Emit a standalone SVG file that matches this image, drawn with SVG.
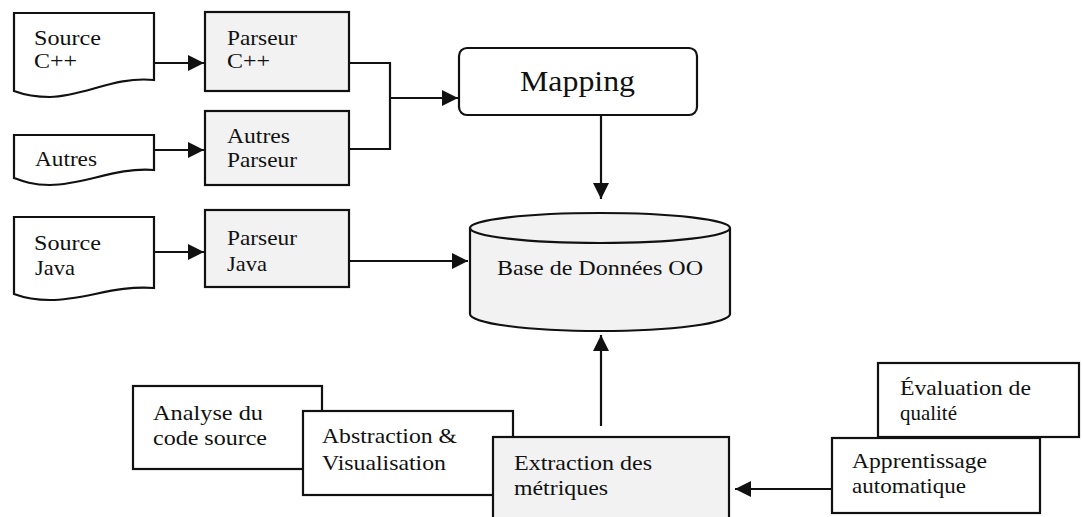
<svg xmlns="http://www.w3.org/2000/svg" width="1082" height="517" viewBox="0 0 1082 517">
  <style>
    .box { stroke: #111; stroke-width: 2.2; }
    .doc { fill: #fff; }
    .grey { fill: #f2f2f2; }
    .white { fill: #fff; }
    .lbl { font-family: "Liberation Serif", "Times New Roman", serif; font-size: 21px; fill: #111; }
    .big { font-size: 30px; }
    .wire { fill: none; stroke: #111; stroke-width: 2.2; }
  </style>
  <defs>
    <marker id="head" viewBox="0 0 16 16" refX="16" refY="8" markerWidth="16" markerHeight="16" markerUnits="userSpaceOnUse" orient="auto">
      <path d="M0,0 L16,8 L0,16 Z" fill="#111"/>
    </marker>
  </defs>

  <rect width="1082" height="517" fill="#fff"/>

  <!-- input sources -->
  <g id="source-cpp">
    <path class="box doc" d="M14,13 H154 V80 C115,76 85,96 50,97 C32,97 22,94 14,91 Z"/>
    <text class="lbl" x="34" y="45" textLength="67" lengthAdjust="spacingAndGlyphs">Source</text>
    <text class="lbl" x="34" y="68" textLength="43" lengthAdjust="spacingAndGlyphs">C++</text>
  </g>
  <g id="source-autres">
    <path class="box doc" d="M14,135 H154 V170 C115,167 85,185 50,185 C32,185 22,181 14,178 Z"/>
    <text class="lbl" x="35" y="166" textLength="62" lengthAdjust="spacingAndGlyphs">Autres</text>
  </g>
  <g id="source-java">
    <path class="box doc" d="M14,217 H154 V288 C115,285 85,300 50,300 C32,300 22,297 14,294 Z"/>
    <text class="lbl" x="34" y="250" textLength="67" lengthAdjust="spacingAndGlyphs">Source</text>
    <text class="lbl" x="35" y="275" textLength="40" lengthAdjust="spacingAndGlyphs">Java</text>
  </g>

  <!-- parsers -->
  <g id="parseur-cpp">
    <rect class="box grey" x="205" y="12" width="144" height="79"/>
    <text class="lbl" x="227" y="45" textLength="70" lengthAdjust="spacingAndGlyphs">Parseur</text>
    <text class="lbl" x="227" y="68" textLength="43" lengthAdjust="spacingAndGlyphs">C++</text>
  </g>
  <g id="parseur-autres">
    <rect class="box grey" x="205" y="111" width="144" height="74"/>
    <text class="lbl" x="227" y="143" textLength="63" lengthAdjust="spacingAndGlyphs">Autres</text>
    <text class="lbl" x="227" y="167" textLength="70" lengthAdjust="spacingAndGlyphs">Parseur</text>
  </g>
  <g id="parseur-java">
    <rect class="box grey" x="205" y="210" width="144" height="77"/>
    <text class="lbl" x="227" y="245" textLength="70" lengthAdjust="spacingAndGlyphs">Parseur</text>
    <text class="lbl" x="227" y="271" textLength="40" lengthAdjust="spacingAndGlyphs">Java</text>
  </g>

  <!-- mapping -->
  <g id="mapping">
    <rect class="box white" x="459" y="48" width="238" height="67" rx="8"/>
    <text class="lbl big" x="520" y="91" textLength="115" lengthAdjust="spacingAndGlyphs">Mapping</text>
  </g>

  <!-- object database -->
  <g id="base-oo">
    <path class="box grey" d="M470,228 V314 A130,17 0 0 0 730,314 V228"/>
    <ellipse class="box grey" cx="600" cy="228" rx="130" ry="15"/>
    <text class="lbl" x="497" y="275" textLength="206" lengthAdjust="spacingAndGlyphs">Base de Données OO</text>
  </g>

  <!-- analysis tools, bottom left -->
  <g id="analyse">
    <rect class="box white" x="133" y="386" width="189" height="83"/>
    <text class="lbl" x="153" y="420" textLength="110" lengthAdjust="spacingAndGlyphs">Analyse du</text>
    <text class="lbl" x="153" y="445" textLength="114" lengthAdjust="spacingAndGlyphs">code source</text>
  </g>
  <g id="abstraction">
    <rect class="box white" x="303" y="411" width="210" height="84"/>
    <text class="lbl" x="322" y="443" textLength="135" lengthAdjust="spacingAndGlyphs">Abstraction &amp;</text>
    <text class="lbl" x="322" y="470" textLength="124" lengthAdjust="spacingAndGlyphs">Visualisation</text>
  </g>
  <g id="extraction">
    <rect class="box grey" x="493" y="437" width="236" height="90"/>
    <text class="lbl" x="514" y="470" textLength="138" lengthAdjust="spacingAndGlyphs">Extraction des</text>
    <text class="lbl" x="514" y="495" textLength="94" lengthAdjust="spacingAndGlyphs">métriques</text>
  </g>

  <!-- learning tools, bottom right -->
  <g id="evaluation">
    <rect class="box white" x="878" y="363" width="201" height="74"/>
    <text class="lbl" x="900" y="395" textLength="131" lengthAdjust="spacingAndGlyphs">Évaluation de</text>
    <text class="lbl" x="900" y="420" textLength="57" lengthAdjust="spacingAndGlyphs">qualité</text>
  </g>
  <g id="apprentissage">
    <rect class="box white" x="832" y="438" width="208" height="75"/>
    <text class="lbl" x="852" y="468" textLength="135" lengthAdjust="spacingAndGlyphs">Apprentissage</text>
    <text class="lbl" x="852" y="493" textLength="114" lengthAdjust="spacingAndGlyphs">automatique</text>
  </g>

  <!-- connectors -->
  <g id="connectors">
    <path class="wire" d="M154,63 H204" marker-end="url(#head)"/>
    <path class="wire" d="M154,150 H204" marker-end="url(#head)"/>
    <path class="wire" d="M154,252 H204" marker-end="url(#head)"/>
    <path class="wire" d="M349,63 H390 V149 H349"/>
    <path class="wire" d="M390,98 H458" marker-end="url(#head)"/>
    <path class="wire" d="M601,115 V199" marker-end="url(#head)"/>
    <path class="wire" d="M349,261 H468" marker-end="url(#head)"/>
    <path class="wire" d="M601,426 V335" marker-end="url(#head)"/>
    <path class="wire" d="M832,489 H735" marker-end="url(#head)"/>
  </g>
</svg>
